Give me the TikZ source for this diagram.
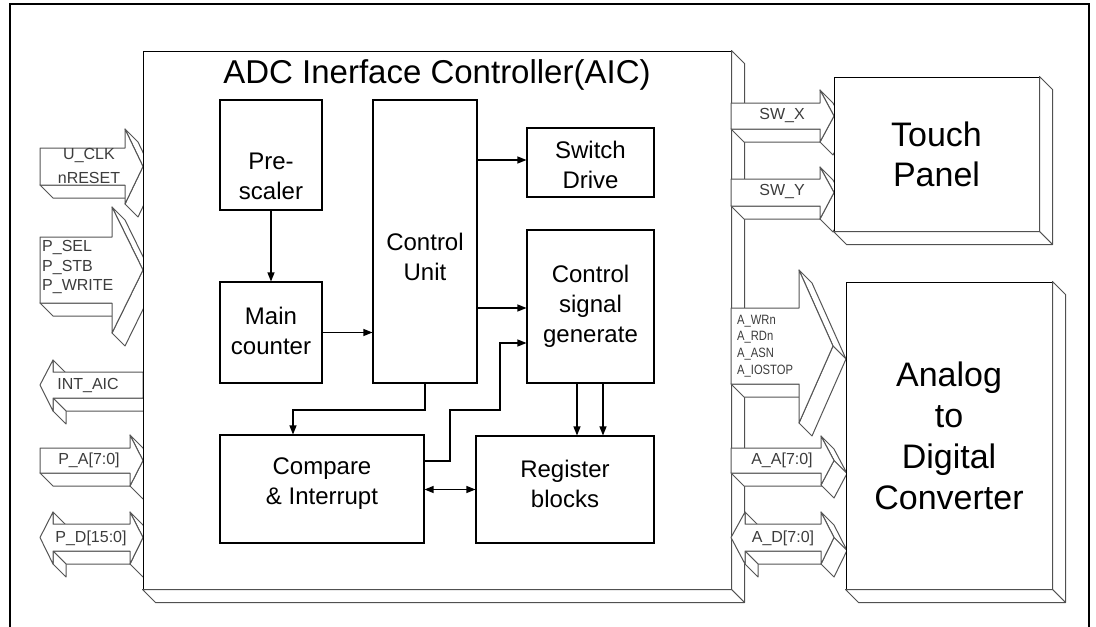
\documentclass[tikz,border=0pt]{standalone}
\usepackage{fontspec}
\setmainfont{Liberation Sans}
\newfontfamily\narrowfont[FakeStretch=0.83]{Liberation Sans}
\usetikzlibrary{arrows.meta,calc}
\definecolor{busgray}{HTML}{555555}
\definecolor{lblgray}{HTML}{3C3C3C}
\definecolor{extgray}{HTML}{505050}
\newcommand{\depthpx}{13}
% right-pointing bus arrow: xL xB xTip yT yB headTop headBottom
\newcommand{\busR}[7]{%
 \path[busface] (#1,#5) -- (#2,#5) -- ({#2+\depthpx},{#5+\depthpx}) -- ({#1+\depthpx},{#5+\depthpx}) -- cycle;
 \path[busface] (#2,#6) -- (#3,{(#4+#5)/2}) -- ({#3+\depthpx},{(#4+#5)/2+\depthpx}) -- ({#2+\depthpx},{#6+\depthpx}) -- cycle;
 \path[busface] (#3,{(#4+#5)/2}) -- (#2,#7) -- ({#2+\depthpx},{#7+\depthpx}) -- ({#3+\depthpx},{(#4+#5)/2+\depthpx}) -- cycle;
 \path[busface] (#1,#4) -- (#2,#4) -- (#2,#6) -- (#3,{(#4+#5)/2}) -- (#2,#7) -- (#2,#5) -- (#1,#5) -- cycle;
}
% left-pointing bus arrow: xR xB xTip yT yB headTop headBottom
\newcommand{\busL}[7]{%
 \path[busface] (#2,#6) -- (#2,#4) -- ({#2+\depthpx},{#4+\depthpx}) -- ({#2+\depthpx},{#6+\depthpx}) -- cycle;
 \path[busface] (#2,#5) -- (#1,#5) -- ({#1+\depthpx},{#5+\depthpx}) -- ({#2+\depthpx},{#5+\depthpx}) -- cycle;
 \path[busface] (#2,#5) -- (#2,#7) -- ({#2+\depthpx},{#7+\depthpx}) -- ({#2+\depthpx},{#5+\depthpx}) -- cycle;
 \path[busface] (#1,#4) -- (#2,#4) -- (#2,#6) -- (#3,{(#4+#5)/2}) -- (#2,#7) -- (#2,#5) -- (#1,#5) -- cycle;
}
% double bus arrow: xTipL xBL xBR xTipR yT yB headTop headBottom
\newcommand{\busD}[8]{%
 \path[busface] (#2,#7) -- (#2,#5) -- ({#2+\depthpx},{#5+\depthpx}) -- ({#2+\depthpx},{#7+\depthpx}) -- cycle;
 \path[busface] (#2,#6) -- (#3,#6) -- ({#3+\depthpx},{#6+\depthpx}) -- ({#2+\depthpx},{#6+\depthpx}) -- cycle;
 \path[busface] (#2,#6) -- (#2,#8) -- ({#2+\depthpx},{#8+\depthpx}) -- ({#2+\depthpx},{#6+\depthpx}) -- cycle;
 \path[busface] (#3,#7) -- (#4,{(#5+#6)/2}) -- ({#4+\depthpx},{(#5+#6)/2+\depthpx}) -- ({#3+\depthpx},{#7+\depthpx}) -- cycle;
 \path[busface] (#4,{(#5+#6)/2}) -- (#3,#8) -- ({#3+\depthpx},{#8+\depthpx}) -- ({#4+\depthpx},{(#5+#6)/2+\depthpx}) -- cycle;
 \path[busface] (#2,#5) -- (#3,#5) -- (#3,#7) -- (#4,{(#5+#6)/2}) -- (#3,#8) -- (#3,#6) -- (#2,#6) -- (#2,#8) -- (#1,{(#5+#6)/2}) -- (#2,#7) -- cycle;
}
% 3D faces of a block node
\newcommand{\blockfaces}[1]{%
 \path[extface] (#1.north east) -- ++(\depthpx,\depthpx) -- ($(#1.south east)+(\depthpx,\depthpx)$) -- (#1.south east) -- cycle;
 \path[extface] (#1.south west) -- ++(\depthpx,\depthpx) -- ($(#1.south east)+(\depthpx,\depthpx)$) -- (#1.south east) -- cycle;
}
\begin{document}
\begin{tikzpicture}[x=1pt,y=-1pt,
  busface/.style={draw=busgray, fill=white, line width=1pt, line join=round},
  extface/.style={draw=extgray, fill=white, line width=1pt, line join=round},
  block/.style={draw=black, fill=white, line width=1pt, inner sep=0pt},
  box/.style={draw=black, fill=white, line width=1.1pt, inner sep=0pt},
  boxtxt/.style={font=\fontsize{24}{30}\selectfont, align=center, inner sep=0pt},
  bigtxt/.style={font=\fontsize{34}{40}\selectfont, align=center, inner sep=0pt},
  buslbl/.style={font=\fontsize{16}{24}\selectfont, text=lblgray, inner sep=0pt},
  arr/.style={-{Triangle[length=9pt,width=7pt]}, line width=1.2pt},
  darr/.style={{Triangle[length=9pt,width=7pt]}-{Triangle[length=9pt,width=7pt]}, line width=1.2pt}]
\useasboundingbox (0,0) rectangle (1096,627);
\fill[white] (0,0) rectangle (1096,627);
% outer frame
\draw[line width=2.4pt] (10,627) -- (10,4) -- (1089,4) -- (1089,627);

% left side buses
\busR{40}{125}{143}{148}{185}{129}{204}
\busR{40}{112}{143}{237}{303}{207}{333}
\busL{143}{53}{40}{372}{398}{360}{411}
\busR{40}{130}{143}{448}{473}{435}{486}
\busD{40}{53}{130}{143}{524}{551}{512}{564}

% main controller block
\node[block, minimum width=588pt, minimum height=538pt] (aic) at (437,320) {};
\blockfaces{aic}
\node[font=\fontsize{33}{40}\selectfont, inner sep=0pt] (title) at (437,75) {ADC Inerface Controller(AIC)};

% inner blocks
\node[box, minimum width=102pt, minimum height=110pt] (pre) at (271,155) {};
\node[box, minimum width=102pt, minimum height=101pt] (main) at (271,332.5) {};
\node[box, minimum width=104pt, minimum height=283pt] (cu) at (425,241.5) {};
\node[box, minimum width=127pt, minimum height=69pt] (sw) at (590.5,162.5) {};
\node[box, minimum width=127pt, minimum height=153pt] (csg) at (590.5,306.5) {};
\node[box, minimum width=204pt, minimum height=108pt] (cmp) at (322,489) {};
\node[box, minimum width=178pt, minimum height=107pt] (reg) at (565,489.5) {};

\node[boxtxt] (pretxt) at (271,176) {Pre-\\scaler};
\node[boxtxt] (maintxt) at (271,331) {Main\\counter};
\node[boxtxt] (cutxt) at (425,257) {Control\\Unit};
\node[boxtxt] (swtxt) at (590.5,165) {Switch\\Drive};
\node[boxtxt] (csgtxt) at (590.5,306) {Control\\signal\\generate};
\node[boxtxt] (cmptxt) at (322,484) {Compare\\\& Interrupt};
\node[boxtxt] (regtxt) at (565,484) {Register\\blocks};

% internal connectors
\coordinate (j1) at (293,410);
\coordinate (k1) at (450,461);
\coordinate (k2) at (500,410);
\coordinate (k3) at (500,343);
\draw[arr] (pre.south) -- (main.north);
\draw[arr] (main.east) -- (main.east -| cu.west);
\draw[arr] (cu.east |- 0,160) -- (sw.west |- 0,160);
\draw[arr] (cu.east |- 0,308) -- (csg.west |- 0,308);
\draw[arr] (cu.south) |- (j1) -- (j1 |- cmp.north);
\draw[arr] (cmp.east |- k1) -- (k1) |- (k2) |- (csg.west |- k3);
\draw[arr] ([xshift=-13.5pt]csg.south) -- ([xshift=-13.5pt]csg.south |- reg.north);
\draw[arr] ([xshift=12.5pt]csg.south) -- ([xshift=12.5pt]csg.south |- reg.north);
\draw[darr] (cmp.east |- reg.west) -- (reg.west);

% right side buses
\busR{731}{820}{834}{103}{129}{90}{142}
\busR{731}{820}{834}{179}{206}{167}{219}
\busR{731}{799}{833}{308}{384}{270}{423}
\busR{731}{821}{834}{448}{473}{436}{485}
\busD{731}{745}{821}{834}{524}{551}{512}{564}

% external blocks
\node[block, minimum width=205pt, minimum height=154pt, bigtxt] (tp) at (936.5,154) {Touch\\Panel};
\blockfaces{tp}
\node[block, minimum width=206pt, minimum height=307pt, font=\fontsize{34}{41}\selectfont, align=center] (adc) at (949,435.5) {Analog\\to\\Digital\\Converter};
\blockfaces{adc}

% bus labels
\node[buslbl, align=center] (lclk) at (89,166) {U\_CLK\\nRESET};
\node[buslbl, align=left, anchor=west, font=\fontsize{16}{19.5}\selectfont] (lsel) at (42,267) {P\_SEL\\P\_STB\\P\_WRITE};
\node[buslbl] (lint) at (88,385) {INT\_AIC};
\node[buslbl] (lpa) at (89,460) {P\_A[7:0]};
\node[buslbl] (lpd) at (91,538) {P\_D[15:0]};
\node[buslbl] (lswx) at (782,116) {SW\_X};
\node[buslbl] (lswy) at (782,192) {SW\_Y};
\node[buslbl, align=left, anchor=west, font=\narrowfont\fontsize{13.5}{16.7}\selectfont] (lawr) at (737,346) {A\_WRn\\A\_RDn\\A\_ASN\\A\_IOSTOP};
\node[buslbl] (laa) at (782,460) {A\_A[7:0]};
\node[buslbl] (lad) at (783,538) {A\_D[7:0]};
\end{tikzpicture}
\end{document}
